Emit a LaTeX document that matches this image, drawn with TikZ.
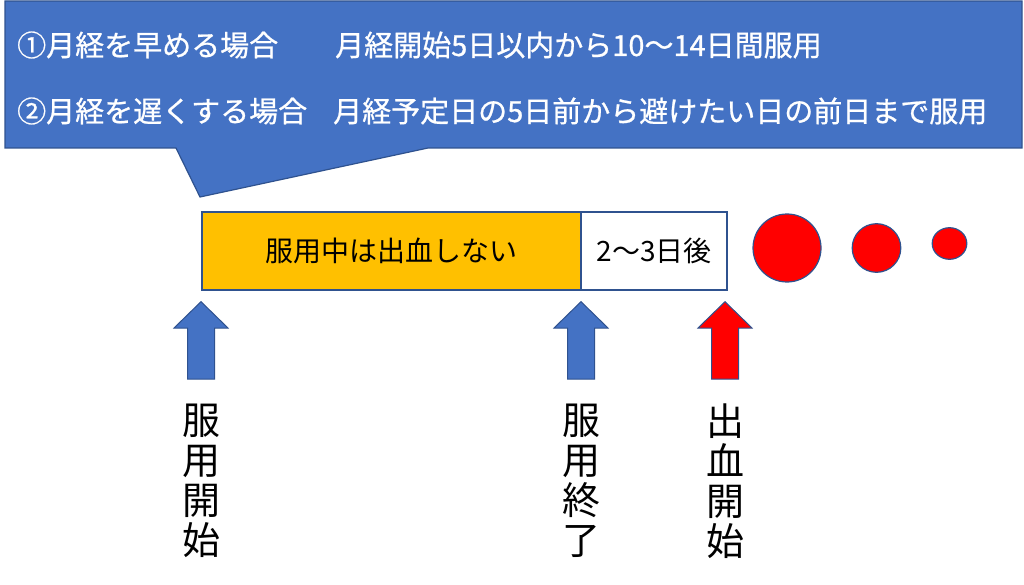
\documentclass[tikz,border=0pt]{standalone}
\usepackage{fontspec}
\newfontfamily\jp{Noto Sans CJK JP}
\newfontfamily\jpm[FakeBold=0.8]{Noto Sans CJK JP}
\definecolor{cblue}{HTML}{4472C4}
\definecolor{cedge}{HTML}{2F528F}
\definecolor{cyellow}{HTML}{FFC000}
\definecolor{cred}{HTML}{FF0000}
\tikzset{
  calloutbox/.style={fill=cblue, draw=cedge, line width=1.2pt, line join=miter},
  calltext/.style={text=white, font=\jpm\fontsize{29}{31}\selectfont, anchor=west, inner sep=0pt},
  barbox/.style={draw=cedge, line width=1.2pt},
  bartext/.style={font=\jp\fontsize{28}{30}\selectfont, inner sep=0pt},
  dot/.style={fill=cred, draw=cedge, line width=1.2pt},
  arrowshape/.style={draw=cedge, line width=1pt, line join=miter},
  vlabel/.style={font=\jp\fontsize{38}{40}\selectfont, align=center, inner sep=0pt},
}
\newcommand{\UpArr}[3]{% name, x, fill
  \coordinate (#1) at (#2,301.7);
  \draw[arrowshape, fill=#3] (#1) -- ++(27,26.3) -- ++(-13.5,0) -- ++(0,51) -- ++(-27,0) -- ++(0,-51) -- ++(-13.5,0) -- cycle;
}
\begin{document}
\begin{tikzpicture}[x=1pt,y=-1pt]
\useasboundingbox (0,0) rectangle (1024,585);
% callout
\draw[calloutbox] (5,1) -- (1022,1) -- (1022,148) -- (428,148) -- (200,197) -- (176,148) -- (5,148) -- cycle;
\node[calltext] (l1a) at (17,45) {①月経を早める場合};
\node[calltext] (l1b) at (335,45) {月経開始5日以内から10～14日間服用};
\node[calltext] (l2a) at (17,111) {②月経を遅くする場合};
\node[calltext] (l2b) at (333,111) {月経予定日の5日前から避けたい日の前日まで服用};
% bar
\draw[barbox, fill=cyellow] (202,212) rectangle (581,290);
\draw[barbox, fill=white] (581,212) rectangle (727,290);
\node[bartext] (t1) at (391.5,251) {服用中は出血しない};
\node[bartext] (t2) at (654,251) {2～3日後};
% dots
\draw[dot] (787,248) circle (34);
\draw[dot] (876.5,248) circle (24.3);
\draw[dot] (949.5,243.5) ellipse (17.3 and 15.8);
% arrows
\UpArr{a1}{201}{cblue}
\UpArr{a2}{581}{cblue}
\UpArr{a3}{725}{cred}
% vertical labels
\node[vlabel] (v1) at (201,481) {服\\用\\開\\始};
\node[vlabel] (v2) at (581,481) {服\\用\\終\\了};
\node[vlabel] (v3) at (725,481) {出\\血\\開\\始};
\end{tikzpicture}
\end{document}
